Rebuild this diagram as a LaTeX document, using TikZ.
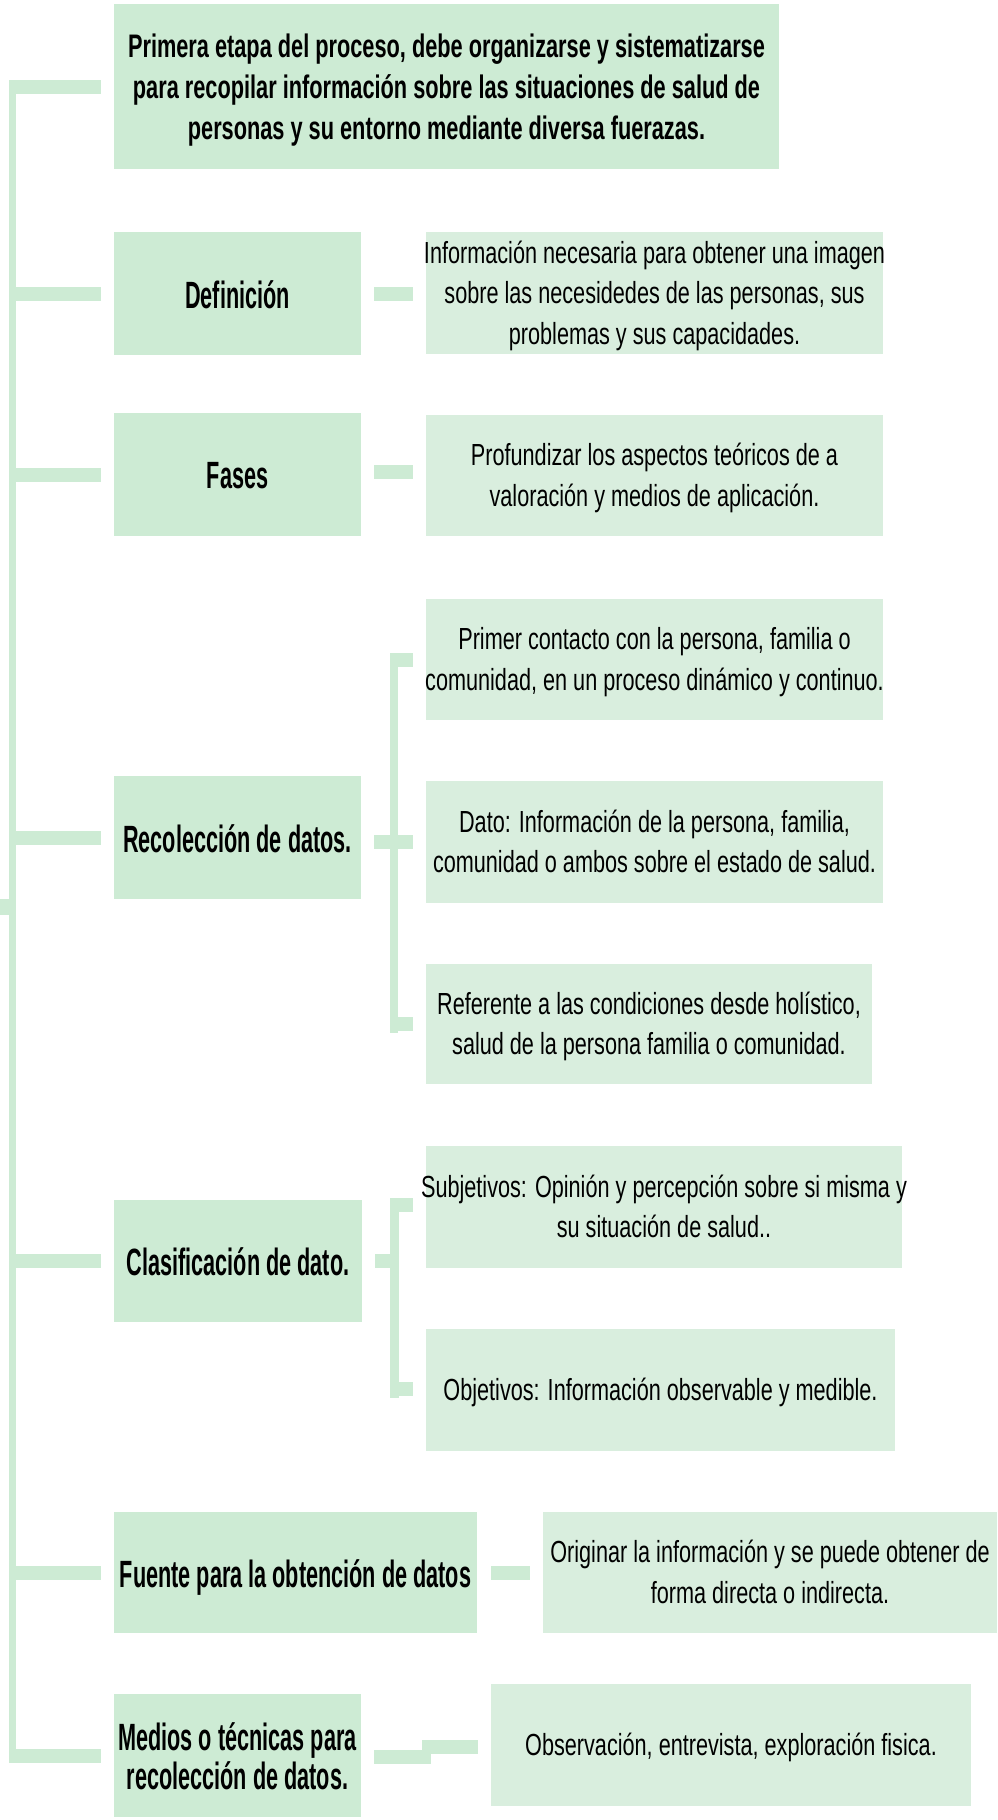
\documentclass[tikz,border=0pt]{standalone}
\usepackage{fontspec}
\newfontfamily\topfnt{Liberation Sans}[FakeStretch=0.667]
\newfontfamily\sidefnt{Liberation Sans}[FakeStretch=0.57]
\newfontfamily\regfnt{Liberation Sans}[FakeStretch=0.71]
\definecolor{leftc}{HTML}{CDEBD4}
\definecolor{rightc}{HTML}{D9EEDE}
\definecolor{linec}{HTML}{CDEBD4}
\def\tshift{0pt}
\newcommand\ctext[1]{\makebox[0pt]{\raisebox{\tshift}[\height][\depth]{\begin{tabular}{@{}c@{}}#1\end{tabular}}}}
\tikzset{
  topbox/.style={fill=leftc, inner sep=0pt, font={\topfnt\bfseries\fontsize{32.6}{41}\selectfont\def\tshift{-3.5pt}}},
  lbox/.style={fill=leftc, inner sep=0pt, font={\sidefnt\bfseries\fontsize{38}{39.5}\selectfont\def\tshift{-6.5pt}}},
  rbox/.style={fill=rightc, inner sep=0pt, font={\regfnt\fontsize{30.5}{40.5}\selectfont\def\tshift{-2.5pt}}},
  conn/.style={draw=linec, line width=14pt, line cap=butt},
  trunkline/.style={draw=linec, line width=7pt, line cap=butt},
  brackline/.style={draw=linec, line width=8.5pt, line cap=butt},
}
\begin{document}
\begin{tikzpicture}[x=1pt,y=-1pt]
\useasboundingbox[fill=white] (0,0) rectangle (997,1820);

% main boxes (left column)
\node[topbox, minimum width=665pt, minimum height=165pt] (top) at (446.5,86.5)
  {\ctext{Primera etapa del proceso, debe organizarse y sistematizarse\\para recopilar información sobre las situaciones de salud de\\personas y su entorno mediante diversa fuerazas.}};
\node[lbox, minimum width=247pt, minimum height=123pt] (defL) at (237.5,293.5) {\ctext{Definición}};
\node[lbox, minimum width=247pt, minimum height=123pt] (fasL) at (237.5,474.5) {\ctext{Fases}};
\node[lbox, minimum width=247pt, minimum height=123pt] (recL) at (237.5,837.5) {\ctext{Recolección de datos.}};
\node[lbox, minimum width=248pt, minimum height=122pt] (claL) at (238,1261) {\ctext{Clasificación de dato.}};
\node[lbox, minimum width=363pt, minimum height=121pt] (fueL) at (295.5,1572.5) {\ctext{Fuente para la obtención de datos}};
\node[lbox, minimum width=247pt, minimum height=123pt] (medL) at (237.5,1755.5) {\ctext{Medios o técnicas para\\recolección de datos.}};

% right boxes
\node[rbox, minimum width=457pt, minimum height=122pt] (defR) at (654.5,293)
  {\ctext{Información necesaria para obtener una imagen\\sobre las necesidedes de las personas, sus\\problemas y sus capacidades.}};
\node[rbox, minimum width=457pt, minimum height=121pt] (fasR) at (654.5,475.5)
  {\ctext{Profundizar los aspectos teóricos de a\\valoración y medios de aplicación.}};
\node[rbox, minimum width=457pt, minimum height=121pt] (r1) at (654.5,659.5)
  {\ctext{Primer contacto con la persona, familia o\\comunidad, en un proceso dinámico y continuo.}};
\node[rbox, minimum width=457pt, minimum height=122pt] (r2) at (654.5,842)
  {\ctext{Dato: Información de la persona, familia,\\comunidad o ambos sobre el estado de salud.}};
\node[rbox, minimum width=446pt, minimum height=120pt] (r3) at (649,1024)
  {\ctext{Referente a las condiciones desde holístico,\\salud de la persona familia o comunidad.}};
\node[rbox, minimum width=476pt, minimum height=122pt] (c1) at (664,1207)
  {\ctext{Subjetivos: Opinión y percepción sobre si misma y\\su situación de salud..}};
\node[rbox, minimum width=469pt, minimum height=122pt] (c2) at (660.5,1390)
  {\ctext{Objetivos: Información observable y medible.}};
\node[rbox, minimum width=454pt, minimum height=121pt] (fueR) at (770,1572.5)
  {\ctext{Originar la información y se puede obtener de\\forma directa o indirecta.}};
\node[rbox, minimum width=480pt, minimum height=122pt] (medR) at (731,1745)
  {\ctext{Observación, entrevista, exploración fisica.}};

% trunk
\coordinate (trunk) at (9,0);
\coordinate (tTop) at (12.5,81);
\coordinate (tBot) at (12.5,1763);
\coordinate (root) at (0,907);
\draw[trunkline] (tTop) -- (tBot);
\draw[draw=linec, line width=16pt] (root) -- (root -| tBot) -- ++(3.5,0);

% stubs from trunk to main boxes
\foreach \b in {top,defL,fasL,recL,claL,fueL,medL}{
  \draw[conn, shorten >=13pt] (\b.west -| trunk) -- (\b.west);
}

% single connectors
\draw[conn, shorten <=13pt, shorten >=13pt] (defL.east) -- (defL.east -| defR.west);
\draw[conn, shorten <=13pt, shorten >=13pt] ([yshift=3pt]fasL.east) -- ([yshift=3pt]fasL.east -| fasR.west);
\draw[conn, shorten <=14pt, shorten >=13pt] (fueL.east) -- (fueL.east -| fueR.west);

% stepped connector for Medios
\coordinate (mA) at (431,1757);
\coordinate (mB) at (422,1747);
\draw[conn, shorten <=13pt] (mA -| medL.east) -- (mA);
\draw[conn, shorten >=13pt] (mB) -- (mB -| medR.west);

% bracket for Recolección
\coordinate (rbT) at (394,653);
\coordinate (rbB) at (394,1033);
\draw[brackline] (rbT) -- (rbB);
\draw[conn, shorten >=13pt] (r1.west -| 390,0) -- (r1.west);
\draw[conn, shorten >=13pt] (r3.west -| 390,0) -- (r3.west);
\draw[conn, shorten <=13pt, shorten >=13pt] (recL.east |- r2.west) -- (r2.west);

% bracket for Clasificación
\coordinate (cbT) at (394.5,1202);
\coordinate (cbB) at (394.5,1398);
\draw[brackline] (cbT) -- (cbB);
\draw[conn, shorten >=13pt] ([yshift=2pt]c1.west -| 390,0) -- ([yshift=2pt]c1.west);
\draw[conn, shorten >=13pt] ([yshift=1pt]c2.west -| 390,0) -- ([yshift=1pt]c2.west);
\draw[conn, shorten <=13pt] (claL.east) -- (claL.east -| cbT) -- ++(4.5,0);
\end{tikzpicture}
\end{document}
